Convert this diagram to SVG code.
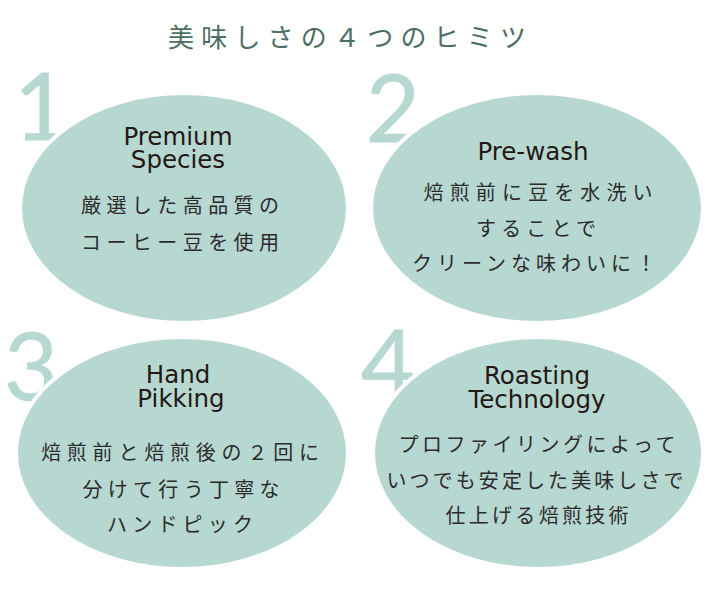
<svg xmlns="http://www.w3.org/2000/svg" width="710" height="603" viewBox="0 0 710 603">
<style>
.bg{fill:#ffffff}
.num{font-family:Lato,"Liberation Sans",sans-serif;font-size:94px;font-weight:400;fill:#b7d8d1;stroke:#b7d8d1;stroke-width:0.8;stroke-linejoin:round;text-anchor:middle}
.ell{fill:#b7d8d1;stroke:#ffffff;stroke-width:4}
.en{font-family:"DejaVu Sans","Liberation Sans",sans-serif;font-size:24.5px;fill:#231815;text-anchor:middle}
.jp{font-family:"Noto Sans CJK JP",sans-serif;font-size:20px;fill:#2b2b2b;text-anchor:middle}
.title{font-family:"Noto Sans CJK JP",sans-serif;font-size:26px;font-weight:400;fill:#4d6e66;text-anchor:middle}
</style>
<rect class="bg" x="0" y="0" width="710" height="603"/>
<text class="title" x="347" y="47" textLength="358" lengthAdjust="spacing">美味しさの４つのヒミツ</text>
<g id="node1">
<text class="num" x="41" y="140">1</text>
<ellipse class="ell" cx="184" cy="208" rx="164" ry="115"/>
<text class="en" x="178" y="145">Premium</text>
<text class="en" x="178" y="168">Species</text>
<text class="jp" x="180" y="213" textLength="198" lengthAdjust="spacing">厳選した高品質の</text>
<text class="jp" x="180" y="250" textLength="198" lengthAdjust="spacing">コーヒー豆を使用</text>
</g>
<g id="node2">
<text class="num" x="393" y="142">2</text>
<ellipse class="ell" cx="537" cy="208" rx="166" ry="115"/>
<text class="en" x="533" y="160">Pre-wash</text>
<text class="jp" x="538" y="200" textLength="229" lengthAdjust="spacing">焙煎前に豆を水洗い</text>
<text class="jp" x="536" y="236" textLength="120" lengthAdjust="spacing">することで</text>
<text class="jp" x="534" y="271" textLength="244" lengthAdjust="spacing">クリーンな味わいに！</text>
</g>
<g id="node3">
<text class="num" x="31" y="400">3</text>
<ellipse class="ell" cx="182" cy="453" rx="166" ry="116"/>
<text class="en" x="178" y="383">Hand</text>
<text class="en" x="181" y="407">Pikking</text>
<text class="jp" x="180" y="460" textLength="278" lengthAdjust="spacing">焙煎前と焙煎後の２回に</text>
<text class="jp" x="181" y="497" textLength="197" lengthAdjust="spacing">分けて行う丁寧な</text>
<text class="jp" x="180" y="532" textLength="146" lengthAdjust="spacing">ハンドピック</text>
</g>
<g id="node4">
<text class="num" x="388" y="397">4</text>
<ellipse class="ell" cx="538" cy="453" rx="165" ry="116"/>
<text class="en" x="537" y="384">Roasting</text>
<text class="en" x="537" y="408">Technology</text>
<text class="jp" x="537" y="452" textLength="277" lengthAdjust="spacing">プロファイリングによって</text>
<text class="jp" x="535" y="488" textLength="297" lengthAdjust="spacing">いつでも安定した美味しさで</text>
<text class="jp" x="537" y="523" textLength="183" lengthAdjust="spacing">仕上げる焙煎技術</text>
</g>
<g id="connectors"></g>
</svg>
